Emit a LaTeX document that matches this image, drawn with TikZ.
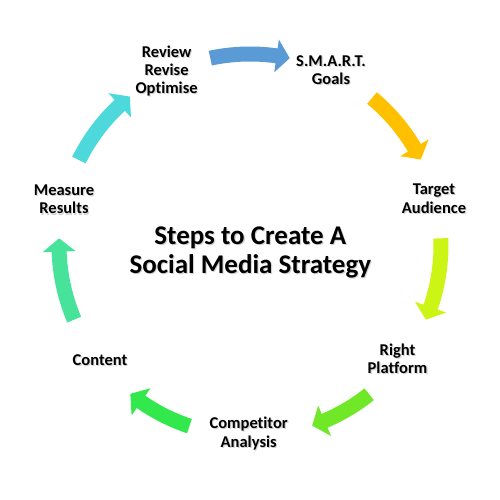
\documentclass[tikz,border=0pt]{standalone}
\usepackage{fontspec}
\setmainfont{Carlito}[Ligatures={NoCommon,NoContextual}]
\definecolor{cBlue}{HTML}{5B9BD5}
\definecolor{cAmber}{HTML}{FFC000}
\definecolor{cLime}{HTML}{CCF516}
\definecolor{cGreenA}{HTML}{70E828}
\definecolor{cGreenB}{HTML}{33E84D}
\definecolor{cTeal}{HTML}{47E39B}
\definecolor{cCyan}{HTML}{4DD9DC}
\newcommand\cycarrow[3]{%
  \pgfmathsetmacro\cyT{90-(#2)}%
  \pgfmathsetmacro\cyP{90-(#3)}%
  \pgfmathsetmacro\cyB{\cyP+4}%
  \fill[#1] (\cyT:198.5) arc[start angle=\cyT, end angle=\cyB, radius=198.5]
    -- (\cyB:207.5) -- (\cyP:191) -- (\cyB:174.5) -- (\cyB:183.5)
    arc[start angle=\cyB, end angle=\cyT, radius=183.5] -- cycle;}
\newcommand\lbl[5]{% style, name, x, screen y, text
  \node[#1, text=black!55, opacity=0.32] (#2s) at (#3+1.1, 500-#4-1.1) {#5};
  \node[#1] (#2) at (#3, 500-#4) {#5};}
\tikzset{
  lbltxt/.style={font=\bfseries\fontsize{16.5}{18.3}\selectfont, align=center, inner sep=0pt},
  ttltxt/.style={font=\bfseries\fontsize{27}{29.5}\selectfont, align=center, inner sep=0pt}
}
\begin{document}
\begin{tikzpicture}[x=1pt,y=1pt]
\useasboundingbox (0,0) rectangle (500,500);
\fill[white] (0,0) rectangle (500,500);
\begin{scope}[shift={(250,255)}]
  \cycarrow{cBlue}{-12}{12}
  \cycarrow{cAmber}{39.7}{63.4}
  \cycarrow{cLime}{88}{113}
  \cycarrow{cGreenA}{141.4}{161}
  \cycarrow{cGreenB}{198.5}{218.8}
  \cycarrow{cTeal}{247}{272}
  \cycarrow{cCyan}{296.4}{321}
\end{scope}
\lbl{lbltxt}{review}{166.6}{71}{Review\\Revise\\Optimise}
\lbl{lbltxt}{smart}{331}{70}{S.M.A.R.T.\\Goals}
\lbl{lbltxt}{target}{434}{198.7}{Target\\Audience}
\lbl{lbltxt}{platform}{397.5}{359}{Right\\Platform}
\lbl{lbltxt}{competitor}{248.7}{433.4}{Competitor\\Analysis}
\lbl{lbltxt}{content}{100}{360}{Content}
\lbl{lbltxt}{measure}{64}{199.5}{Measure\\Results}
\lbl{ttltxt}{title}{250.3}{252.5}{Steps to Create A\\Social Media Strategy}
\end{tikzpicture}
\end{document}
